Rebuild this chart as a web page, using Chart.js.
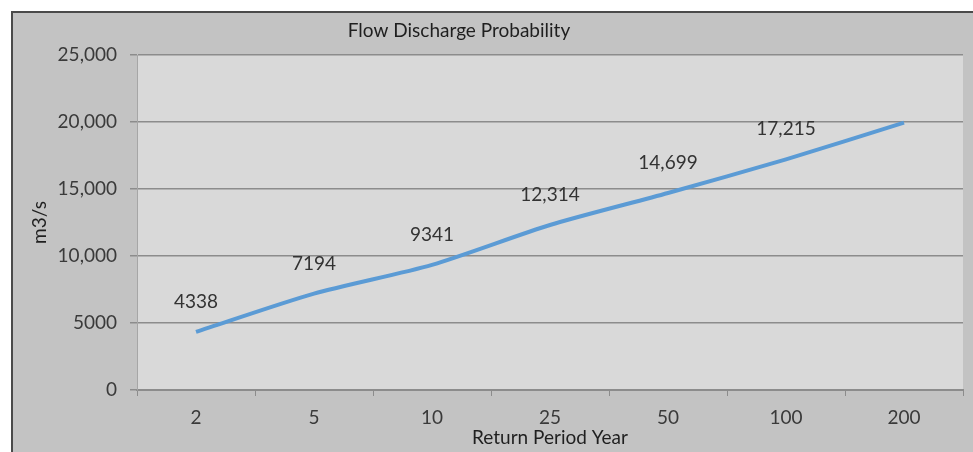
<!DOCTYPE html>
<html>
<head>
<meta charset="utf-8">
<script src="https://cdn.jsdelivr.net/npm/chart.js@4/dist/chart.umd.min.js"></script>
<style>
  html, body { margin: 0; padding: 0; background: #ffffff; }
  #wrap { width: 973px; height: 452px; position: relative; }
</style>
</head>
<body>
<div id="wrap"><canvas id="c" width="973" height="452"></canvas></div>
<script>
// Return period categories (years)
const returnPeriods = ['2', '5', '10', '25', '50', '100', '200'];
// Flow discharge (m3/s) for each return period
const discharge = [4338, 7194, 9341, 12314, 14699, 17215, 19950];
// Value labels printed above the line
const dischargeLabels = ['4338', '7194', '9341', '12,314', '14,699', '17,215', null];
// Y axis tick values and their printed text
const yTickValues = [0, 5000, 10000, 15000, 20000, 25000];
const yTickText = ['0', '5000', '10,000', '15,000', '20,000', '25,000'];

const FONT = 'Lato';
const FS = 19;

// Page frame, outer grey panel and plot area fill
const framePlugin = {
  id: 'frame',
  beforeDraw(chart) {
    const ctx = chart.ctx;
    const a = chart.chartArea;
    ctx.save();
    ctx.fillStyle = '#ffffff';
    ctx.fillRect(0, 0, chart.width, chart.height);
    ctx.fillStyle = '#c3c3c3';
    ctx.fillRect(12, 12, chart.width - 12, chart.height - 12);
    ctx.strokeStyle = '#4a4a4a';
    ctx.lineWidth = 2;
    ctx.beginPath();
    ctx.moveTo(12, chart.height);
    ctx.lineTo(12, 12);
    ctx.lineTo(chart.width, 12);
    ctx.stroke();
    ctx.fillStyle = '#d9d9d9';
    ctx.fillRect(a.left, a.top, a.right - a.left, a.bottom - a.top);
    ctx.restore();
  }
};

// Value labels above each point
const valueLabelPlugin = {
  id: 'valueLabels',
  afterDatasetsDraw(chart) {
    const ctx = chart.ctx;
    const meta = chart.getDatasetMeta(0);
    ctx.save();
    ctx.font = FS + 'px ' + FONT;
    ctx.fillStyle = '#333333';
    ctx.textAlign = 'center';
    ctx.textBaseline = 'middle';
    meta.data.forEach((pt, i) => {
      const txt = dischargeLabels[i];
      if (txt) ctx.fillText(txt, pt.x, pt.y - 30);
    });
    ctx.restore();
  }
};

// Chart heading
const headingPlugin = {
  id: 'heading',
  afterDraw(chart) {
    const ctx = chart.ctx;
    ctx.save();
    ctx.font = FS + 'px ' + FONT;
    ctx.fillStyle = '#1f1f1f';
    ctx.textAlign = 'center';
    ctx.textBaseline = 'middle';
    ctx.fillText('Flow Discharge Probability', 459, 31);
    ctx.restore();
  }
};

new Chart(document.getElementById('c'), {
  type: 'line',
  data: {
    labels: returnPeriods,
    datasets: [{
      data: discharge,
      borderColor: '#5b9bd5',
      borderWidth: 4,
      pointRadius: 0,
      tension: 0.25,
      fill: false
    }]
  },
  options: {
    responsive: false,
    devicePixelRatio: 1,
    animation: false,
    layout: { padding: { left: 28, top: 55, right: 10, bottom: 3 } },
    plugins: {
      legend: { display: false },
      title: { display: false },
      tooltip: { enabled: false }
    },
    scales: {
      x: {
        type: 'category',
        offset: true,
        grid: {
          offset: true,
          drawOnChartArea: false,
          drawTicks: true,
          tickLength: 6,
          color: '#8c8c8c',
          lineWidth: 1
        },
        border: { display: true, color: '#8c8c8c', width: 2 },
        ticks: {
          color: '#3a3a3a',
          font: { family: FONT, size: FS },
          padding: 10,
          maxRotation: 0
        },
        title: {
          display: true,
          text: 'Return Period Year',
          color: '#1f1f1f',
          font: { family: FONT, size: FS },
          padding: 0
        },
        afterFit(s) { s.height = 59; }
      },
      y: {
        min: 0,
        max: 25000,
        afterBuildTicks(s) { s.ticks = yTickValues.map(v => ({ value: v })); },
        grid: {
          color: '#8c8c8c',
          lineWidth: 1.5,
          drawTicks: true,
          tickLength: 7
        },
        border: { display: true, color: '#a6a6a6', width: 1 },
        ticks: {
          color: '#3a3a3a',
          font: { family: FONT, size: FS },
          padding: 13,
          callback(value) {
            const i = yTickValues.indexOf(value);
            return i >= 0 ? yTickText[i] : '';
          }
        },
        title: {
          display: true,
          text: 'm3/s',
          color: '#1f1f1f',
          font: { family: FONT, size: FS },
          padding: 0
        },
        afterFit(s) { s.width = 109; }
      }
    }
  },
  plugins: [framePlugin, valueLabelPlugin, headingPlugin]
});
</script>
</body>
</html>
